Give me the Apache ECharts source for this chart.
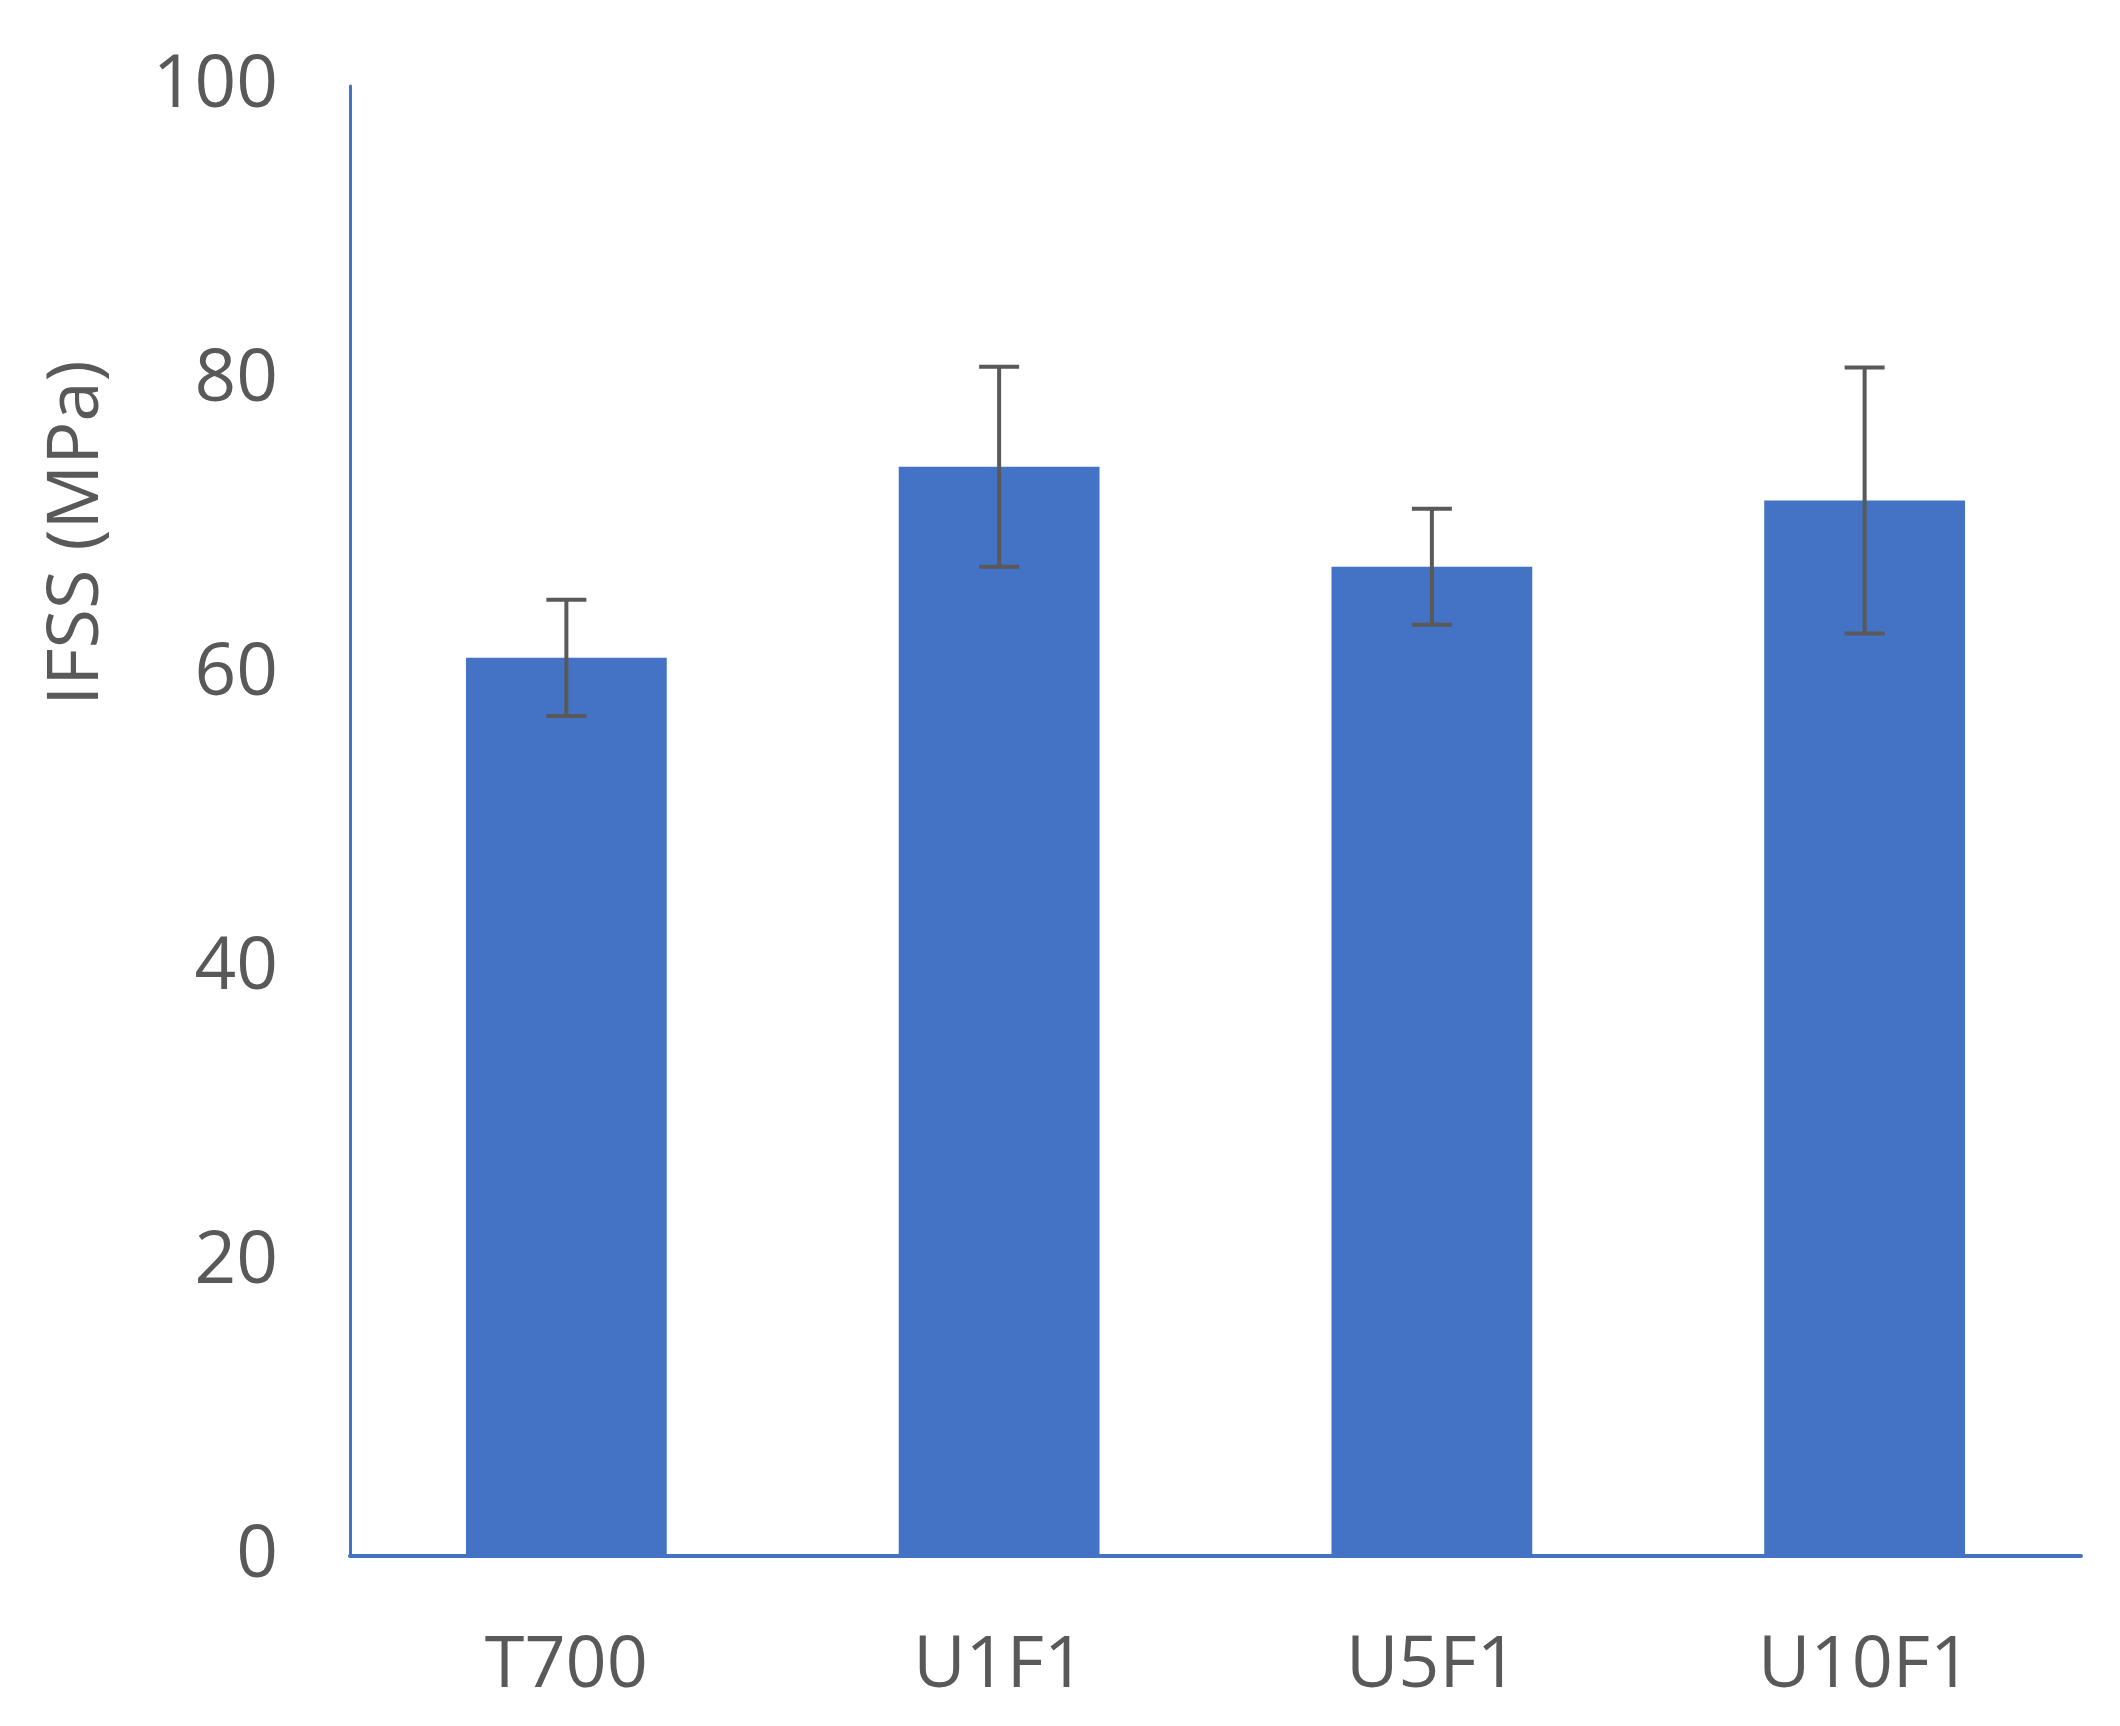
<!DOCTYPE html>
<html>
<head>
<meta charset="utf-8">
<script src="https://cdn.jsdelivr.net/npm/echarts@6/dist/echarts.min.js"></script>
<style>
html,body{margin:0;padding:0;background:#fff;}
#chart{width:2120px;height:1726px;}
</style>
</head>
<body>
<div id="chart"></div>
<script>
var categories = ['T700', 'U1F1', 'U5F1', 'U10F1'];
var ifssMean = [61.1, 74.1, 67.3, 71.8];
var ifssErr = [3.95, 6.8, 3.95, 9.05];
var yTicks = [0, 20, 40, 60, 80, 100];
var yTitle = 'IFSS (MPa)';

var errData = categories.map(function (c, i) {
  return [i, ifssMean[i] - ifssErr[i], ifssMean[i] + ifssErr[i]];
});

var chart = echarts.init(document.getElementById('chart'));
var fontFam = '"Open Sans", "Noto Sans", sans-serif';
chart.setOption({
  animation: false,
  backgroundColor: '#ffffff',
  grid: { left: 350, right: 39, top: 86, bottom: 170 },
  xAxis: {
    type: 'category',
    data: categories,
    axisLine: { show: true, lineStyle: { color: '#4472C4', width: 4 } },
    axisTick: { show: false },
    axisLabel: { color: '#595959', fontSize: 72, fontFamily: fontFam, margin: 74 }
  },
  yAxis: {
    type: 'value',
    min: yTicks[0],
    max: yTicks[yTicks.length - 1],
    interval: 20,
    axisLine: { show: true, lineStyle: { color: '#4472C4', width: 3 } },
    axisTick: { show: false },
    splitLine: { show: false },
    axisLabel: { color: '#595959', fontSize: 73, fontFamily: fontFam, margin: 72 }
  },
  graphic: [{
    type: 'text',
    x: 77,
    y: 533,
    rotation: Math.PI / 2,
    style: {
      text: yTitle,
      fill: '#595959',
      font: '72px ' + fontFam,
      textAlign: 'center',
      textVerticalAlign: 'middle'
    }
  }],
  series: [{
    type: 'bar',
    data: ifssMean,
    barWidth: '46.4%',
    itemStyle: { color: '#4472C4' }
  }, {
    type: 'custom',
    data: errData,
    z: 10,
    renderItem: function (params, api) {
      var idx = api.value(0);
      var lo = api.coord([idx, api.value(1)]);
      var hi = api.coord([idx, api.value(2)]);
      var hw = 20;
      var st = { stroke: '#595959', lineWidth: 4 };
      return {
        type: 'group',
        children: [
          { type: 'line', shape: { x1: hi[0], y1: hi[1], x2: lo[0], y2: lo[1] }, style: st },
          { type: 'line', shape: { x1: hi[0] - hw, y1: hi[1], x2: hi[0] + hw, y2: hi[1] }, style: st },
          { type: 'line', shape: { x1: lo[0] - hw, y1: lo[1], x2: lo[0] + hw, y2: lo[1] }, style: st }
        ]
      };
    }
  }]
});
</script>
</body>
</html>
